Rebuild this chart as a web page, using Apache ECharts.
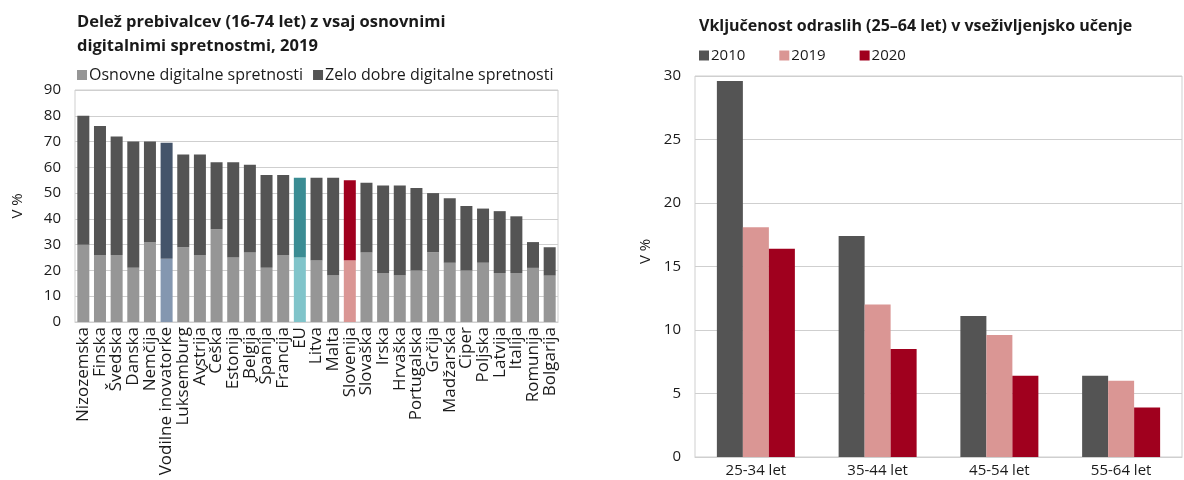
<!DOCTYPE html>
<html>
<head>
<meta charset="utf-8">
<script src="https://cdn.jsdelivr.net/npm/echarts@6/dist/echarts.min.js"></script>
<style>
  html, body { margin: 0; padding: 0; background: #fff; }
  #chart { width: 1184px; height: 480px; }
</style>
</head>
<body>
<div id="chart"></div>
<script>
// levi graf: delež prebivalcev z digitalnimi spretnostmi, 2019
const countries = ['Nizozemska', 'Finska', 'Švedska', 'Danska', 'Nemčija', 'Vodilne inovatorke',
  'Luksemburg', 'Avstrija', 'Češka', 'Estonija', 'Belgija', 'Španija', 'Francija', 'EU', 'Litva',
  'Malta', 'Slovenija', 'Slovaška', 'Irska', 'Hrvaška', 'Portugalska', 'Grčija', 'Madžarska',
  'Ciper', 'Poljska', 'Latvija', 'Italija', 'Romunija', 'Bolgarija']
const osnovne = [30, 26, 26, 21, 31, 24.5, 29, 26, 36, 25, 27, 21, 26, 25, 24, 18, 24, 27, 19, 18, 20, 27, 23, 20, 23, 19, 19, 21, 18]
const zeloDobre = [50, 50, 46, 49, 39, 45, 36, 39, 26, 37, 34, 36, 31, 31, 32, 38, 31, 27, 34, 35, 32, 23, 25, 25, 21, 24, 22, 10, 11]

// desni graf: vključenost odraslih v vseživljenjsko učenje
const ageGroups = ['25-34 let', '35-44 let', '45-54 let', '55-64 let']
const v2010 = [29.6, 17.4, 11.1, 6.4]
const v2019 = [18.1, 12.0, 9.6, 6.0]
const v2020 = [16.4, 8.5, 6.4, 3.9]

// posebne barve stolpcev (spodnji del, zgornji del)
const highlight = {
  'Vodilne inovatorke': ['#8497b0', '#44546a'],
  'EU': ['#80c4ca', '#3a8c93'],
  'Slovenija': ['#da9694', '#a0001e'],
}

const font = '"Open Sans", "Noto Sans", sans-serif'
const txt = '#1a1a1a'
const gridLine = '#cfcfcf'

function colored(values, idx, base) {
  return values.map((v, i) => {
    const h = highlight[countries[i]]
    return { value: v, itemStyle: { color: h ? h[idx] : base } }
  })
}

const chart = echarts.init(document.getElementById('chart'))

chart.setOption({
  animation: false,
  textStyle: { fontFamily: font },
  title: [
    {
      text: 'Delež prebivalcev (16-74 let) z vsaj osnovnimi\ndigitalnimi spretnostmi, 2019',
      left: 72, top: 5,
      textStyle: { fontSize: 16.5, fontWeight: 'bold', color: txt, lineHeight: 24, fontFamily: font },
    },
    {
      text: 'Vključenost odraslih (25–64 let) v vseživljenjsko učenje',
      left: 694, top: 13,
      textStyle: { fontSize: 16, fontWeight: 'bold', color: txt, fontFamily: font },
    },
  ],
  legend: [
    {
      data: ['Osnovne digitalne spretnosti', 'Zelo dobre digitalne spretnosti'],
      left: 72, top: 62,
      icon: 'rect', itemWidth: 10, itemHeight: 10, itemGap: 10,
      textStyle: { fontSize: 16, color: txt, fontFamily: font, padding: [0, 0, 0, -3] },
    },
    {
      data: ['2010', '2019', '2020'],
      left: 694, top: 43,
      icon: 'rect', itemWidth: 10, itemHeight: 10, itemGap: 34,
      textStyle: { fontSize: 15, color: txt, fontFamily: font, padding: [0, 0, 0, -3] },
    },
  ],
  grid: [
    { left: 75, top: 90, width: 483, height: 232, show: true, borderColor: gridLine, borderWidth: 1 },
    { left: 695, top: 76, width: 487, height: 381, show: true, borderColor: gridLine, borderWidth: 1 },
  ],
  xAxis: [
    {
      type: 'category', gridIndex: 0, data: countries,
      axisLine: { lineStyle: { color: gridLine } },
      axisTick: { show: false },
      axisLabel: { rotate: 90, interval: 0, fontSize: 17, color: txt, margin: 5 },
    },
    {
      type: 'category', gridIndex: 1, data: ageGroups,
      axisLine: { lineStyle: { color: gridLine } },
      axisTick: { show: false },
      axisLabel: { fontSize: 15, color: txt, margin: 6 },
    },
  ],
  yAxis: [
    {
      type: 'value', gridIndex: 0, min: 0, max: 90, interval: 10,
      name: 'V %', nameLocation: 'middle', nameGap: 50,
      nameTextStyle: { fontSize: 15, color: txt },
      axisLine: { show: false },
      splitLine: { lineStyle: { color: gridLine } },
      axisLabel: { fontSize: 15, color: txt, margin: 14 },
    },
    {
      type: 'value', gridIndex: 1, min: 0, max: 30, interval: 5,
      name: 'V %', nameLocation: 'middle', nameGap: 42,
      nameTextStyle: { fontSize: 15, color: txt, padding: [0, 0, 0, 30] },
      axisLine: { show: false },
      splitLine: { lineStyle: { color: gridLine } },
      axisLabel: { fontSize: 15, color: txt, margin: 14 },
    },
  ],
  series: [
    {
      name: 'Osnovne digitalne spretnosti', type: 'bar', stack: 'a',
      xAxisIndex: 0, yAxisIndex: 0, barWidth: 12,
      itemStyle: { color: '#969696' },
      data: colored(osnovne, 0, '#969696'),
    },
    {
      name: 'Zelo dobre digitalne spretnosti', type: 'bar', stack: 'a',
      xAxisIndex: 0, yAxisIndex: 0, barWidth: 12,
      itemStyle: { color: '#545454' },
      data: colored(zeloDobre, 1, '#545454'),
    },
    {
      name: '2010', type: 'bar', xAxisIndex: 1, yAxisIndex: 1,
      barWidth: 26, barGap: '0%',
      itemStyle: { color: '#545454' }, data: v2010,
    },
    {
      name: '2019', type: 'bar', xAxisIndex: 1, yAxisIndex: 1,
      barWidth: 26, barGap: '0%',
      itemStyle: { color: '#da9694' }, data: v2019,
    },
    {
      name: '2020', type: 'bar', xAxisIndex: 1, yAxisIndex: 1,
      barWidth: 26, barGap: '0%',
      itemStyle: { color: '#a0001e' }, data: v2020,
    },
  ],
})
</script>
</body>
</html>
